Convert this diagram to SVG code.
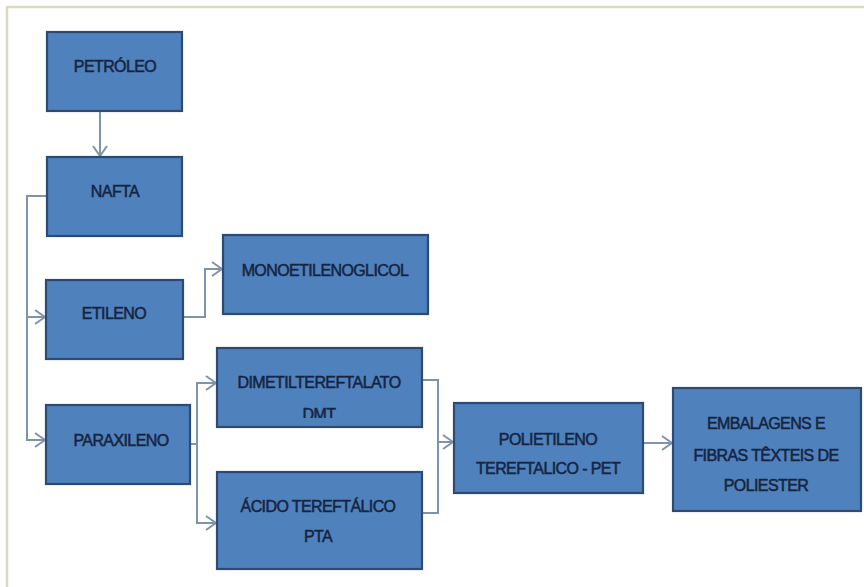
<svg xmlns="http://www.w3.org/2000/svg" width="864" height="587" viewBox="0 0 864 587">
<style>
.box{fill:#4f81bd;stroke:#2c4a72;stroke-width:2.2}
.t{font-family:"Liberation Sans",Arial,sans-serif;font-size:16px;fill:#16243f;stroke:#16243f;stroke-width:0.5;text-anchor:middle;letter-spacing:-0.6px}
.c{fill:none;stroke:#7f93ad;stroke-width:2}
.frame{fill:none;stroke:#dcd9c2;stroke-width:2.5}
</style>
<defs>
<marker id="arr" markerWidth="12" markerHeight="16" refX="11" refY="8" orient="auto" markerUnits="userSpaceOnUse">
<path d="M1,1 L11,8 L1,15" fill="none" stroke="#7f93ad" stroke-width="2"/>
</marker>
<clipPath id="dmtclip"><rect x="217" y="348" width="205" height="70"/></clipPath>
</defs>
<rect width="864" height="587" fill="#ffffff"/>
<path class="frame" d="M7,587 V7 H864"/>
<g id="connectors">
<path class="c" d="M100,111 V156" marker-end="url(#arr)"/>
<path class="c" d="M47,196 H27 V440 H45" marker-end="url(#arr)"/>
<path class="c" d="M27,317 H45" marker-end="url(#arr)"/>
<path class="c" d="M183,317 H205 V269 H222" marker-end="url(#arr)"/>
<path class="c" d="M190,444 H197 V383 H216" marker-end="url(#arr)"/>
<path class="c" d="M197,444 V523 H216" marker-end="url(#arr)"/>
<path class="c" d="M422,380 H438 V513 H422"/>
<path class="c" d="M438,442 H453" marker-end="url(#arr)"/>
<path class="c" d="M643,443 H672" marker-end="url(#arr)"/>
</g>
<g id="petroleo"><rect class="box" x="47" y="32" width="135" height="79"/><text class="t" x="115" y="72">PETRÓLEO</text></g>
<g id="nafta"><rect class="box" x="47" y="157" width="135" height="79"/><text class="t" x="115" y="197">NAFTA</text></g>
<g id="etileno"><rect class="box" x="46" y="280" width="137" height="79"/><text class="t" x="114" y="319">ETILENO</text></g>
<g id="monoetilenoglicol"><rect class="box" x="223" y="235" width="205" height="79"/><text class="t" x="325" y="276">MONOETILENOGLICOL</text></g>
<g id="paraxileno"><rect class="box" x="46" y="405" width="144" height="79"/><text class="t" x="121" y="446">PARAXILENO</text></g>
<g id="dmt"><rect class="box" x="217" y="348" width="205" height="79"/><text class="t" x="319" y="388">DIMETILTEREFTALATO</text><text class="t" x="319" y="420" clip-path="url(#dmtclip)">DMT</text></g>
<g id="pta"><rect class="box" x="217" y="472" width="205" height="97"/><text class="t" x="318" y="512">ÁCIDO TEREFTÁLICO</text><text class="t" x="318" y="542">PTA</text></g>
<g id="pet"><rect class="box" x="454" y="403" width="189" height="90"/><text class="t" x="548" y="445">POLIETILENO</text><text class="t" x="548" y="474">TEREFTALICO - PET</text></g>
<g id="embalagens"><rect class="box" x="673" y="388" width="188" height="123"/><text class="t" x="766" y="429">EMBALAGENS E</text><text class="t" x="766" y="461">FIBRAS TÊXTEIS DE</text><text class="t" x="766" y="491">POLIESTER</text></g>
</svg>
